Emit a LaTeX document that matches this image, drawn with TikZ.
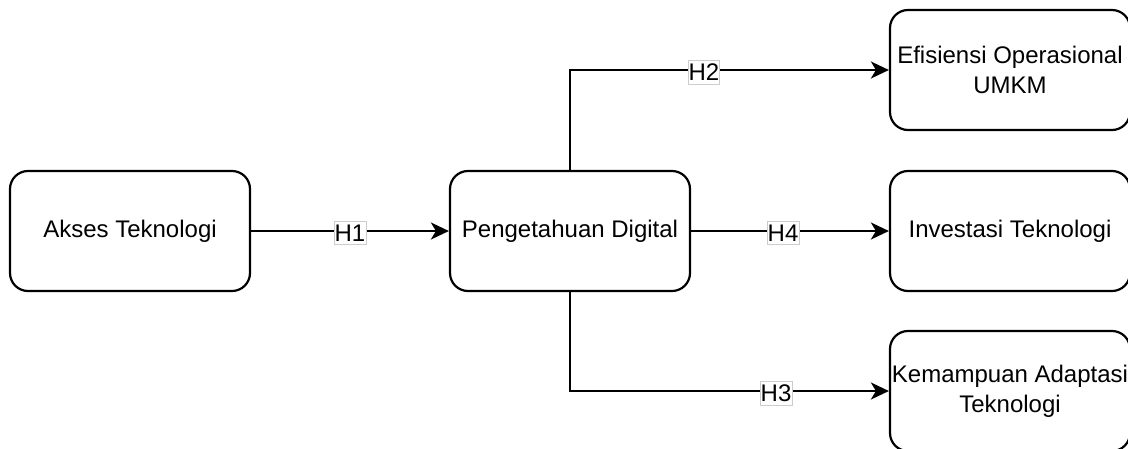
\documentclass[tikz,border=0pt]{standalone}
\usepackage{fontspec}
\setmainfont{Liberation Sans}
\usetikzlibrary{arrows.meta}

\begin{document}
\begin{tikzpicture}[x=1pt, y=-1pt, font=\fontsize{24}{30}\selectfont,
  box/.style={draw, line width=2.2pt, rounded corners=18pt, align=center, minimum width=240pt, minimum height=120pt, inner sep=0pt},
  hlabel/.style={draw=gray!40, line width=0.6pt, fill=white, inner xsep=0.5pt, inner ysep=3.5pt, yshift=-2pt},
  line/.style={-{Stealth[length=18pt, width=17pt, inset=5pt]}, line width=2.2pt}]
\useasboundingbox (0,0) rectangle (1128,448);

\node[box] (akses) at (130,231) {Akses Teknologi};
\node[box] (pengetahuan) at (570,231) {Pengetahuan Digital};
\node[box] (efisiensi) at (1010,70) {Efisiensi Operasional\\UMKM};
\node[box] (investasi) at (1010,231) {Investasi Teknologi};
\node[box] (kemampuan) at (1010,391) {Kemampuan Adaptasi\\Teknologi};

\draw[line] (akses) -- node[hlabel] {H1} (pengetahuan);
\draw[line] (pengetahuan) |- node[hlabel, pos=0.71] {H2} (efisiensi);
\draw[line] (pengetahuan) -- node[hlabel, pos=0.465] {H4} (investasi);
\draw[line] (pengetahuan) |- node[hlabel, pos=0.823] {H3} (kemampuan);
\end{tikzpicture}
\end{document}
